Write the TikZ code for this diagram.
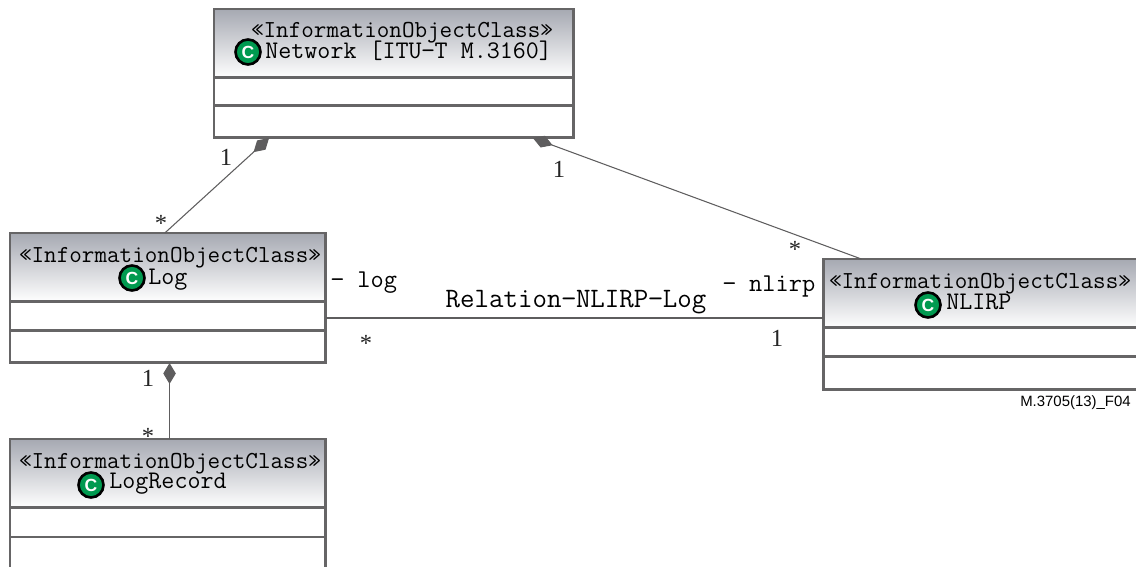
\documentclass[tikz,border=0pt]{standalone}
\usepackage{fontspec}
\usepackage{xcolor}
\usetikzlibrary{arrows.meta, calc}
\newfontfamily\labelfont{Liberation Sans}
\newfontfamily\multifont{Liberation Serif}
\definecolor{boxgray}{HTML}{666566}
\definecolor{headgray}{HTML}{A6A9B2}
\definecolor{iconc}{HTML}{009A50}
\definecolor{linkgray}{HTML}{5E5D5E}
\tikzset{
  classhead/.style={draw=boxgray, line width=1.7pt, top color=headgray, bottom color=white, anchor=north west, inner sep=0pt, outer sep=0pt},
  classrow/.style={draw=boxgray, line width=1.7pt, fill=white, anchor=north west, inner sep=0pt, outer sep=0pt},
  stereo/.style={font=\fontsize{13.9}{15}\ttfamily, inner sep=0pt, anchor=base},
  classname/.style={font=\fontsize{14.4}{15}\ttfamily, inner sep=0pt, anchor=base west},
  roletext/.style={font=\fontsize{14.6}{15}\ttfamily, inner sep=0pt, anchor=base},
  multi/.style={font=\fontsize{14}{15}\multifont, inner sep=0pt, text=black!85, anchor=base},
  icon/.style={draw=black, line width=1.5pt, circle, fill=iconc, minimum size=0.5cm, inner sep=0pt, text=white, font=\fontsize{10}{10}\labelfont\bfseries},
  link/.style={draw=linkgray, line width=0.6pt},
  part/.style={{Diamond[length=0.42cm, width=0.25cm, fill=linkgray]}-}
}
\begin{document}
\begin{tikzpicture}[x=0.02cm, y=-0.02cm]
    \useasboundingbox (0,0) rectangle (1136,567);
    \clip (0,0) rectangle (1136,567);
    \fill[white] (0,0) rectangle (1136,567);

    % Network
    \node[classhead, minimum width=7.2cm, minimum height=1.38cm] (nethead) at (214,9) {};
    \node[classrow, minimum width=7.2cm, minimum height=0.56cm] (netmid) at (214,78) {};
    \node[classrow, minimum width=7.2cm, minimum height=0.64cm] (netbot) at (214,106) {};
    \node[stereo] (netstereo) at (402,38) {«InformationObjectClass»};
    \node[icon] (neticon) at (248,52) {C};
    \node[classname] (netname) at (265,59) {Network [ITU−T M.3160]};

    % Log
    \node[classhead, minimum width=6.32cm, minimum height=1.38cm] (loghead) at (10,233) {};
    \node[classrow, minimum width=6.32cm, minimum height=0.58cm] (logmid) at (10,302) {};
    \node[classrow, minimum width=6.32cm, minimum height=0.64cm] (logbot) at (10,331) {};
    \node[stereo] (logstereo) at (170,263) {«InformationObjectClass»};
    \node[icon] (logicon) at (132,278) {C};
    \node[classname] (logname) at (148,285) {Log};

    % LogRecord, runs off the bottom
    \node[classhead, minimum width=6.32cm, minimum height=1.38cm] (rechead) at (10,439) {};
    \node[classrow, minimum width=6.32cm, minimum height=0.58cm] (recmid) at (10,508) {};
    \node[classrow, minimum width=6.32cm, minimum height=1cm] (recbot) at (10,537) {};
    \node[stereo] (recstereo) at (170,468) {«InformationObjectClass»};
    \node[icon] (recicon) at (91,485) {C};
    \node[classname] (recname) at (109,488) {LogRecord};

    % NLIRP, runs off the right side
    \node[classhead, minimum width=6.5cm, minimum height=1.38cm] (nlirphead) at (823,259) {};
    \node[classrow, minimum width=6.5cm, minimum height=0.58cm] (nlirpmid) at (823,328) {};
    \node[classrow, minimum width=6.5cm, minimum height=0.66cm] (nlirpbot) at (823,357) {};
    \node[stereo] (nlirpstereo) at (980,289) {«InformationObjectClass»};
    \node[icon] (nlirpicon) at (928,305) {C};
    \node[classname] (nlirpname) at (946,310) {NLIRP};

    % Connections
    \draw[link, part] ($(netbot.south west)!0.153!(netbot.south east)$) -- ($(loghead.north west)!0.49!(loghead.north east)$);
    \draw[link, part] ($(netbot.south west)!0.886!(netbot.south east)$) -- ($(nlirphead.north west)!0.118!(nlirphead.north east)$);
    \draw[link, part] ($(logbot.south west)!0.505!(logbot.south east)$) -- ($(rechead.north west)!0.505!(rechead.north east)$);
    \coordinate (relstart) at ($(logmid.north east)!0.55!(logmid.south east)$);
    \draw[link, line width=1pt] (relstart) -- (relstart -| nlirphead.west);

    % Role and multiplicity labels
    \node[roletext] (logrole) at (364,288) {− log};
    \node[roletext] (nlirprole) at (769,292) {− nlirp};
    \node[roletext, font=\fontsize{16}{16}\ttfamily] (relname) at (576,308) {Relation−NLIRP−Log};
    \node[multi] (m1) at (226,166) {1};
    \node[multi] (m2) at (161,232) {*};
    \node[multi] (m3) at (559,178) {1};
    \node[multi] (m4) at (795,258) {*};
    \node[multi] (m5) at (366,352) {*};
    \node[multi] (m6) at (777,347) {1};
    \node[multi] (m7) at (148,387) {1};
    \node[multi] (m8) at (148,444) {*};
    \node[font=\fontsize{8.5}{9}\labelfont, inner sep=0pt, anchor=east] (figid) at (1131,403) {M.3705(13)\_F04};
\end{tikzpicture}
\end{document}
